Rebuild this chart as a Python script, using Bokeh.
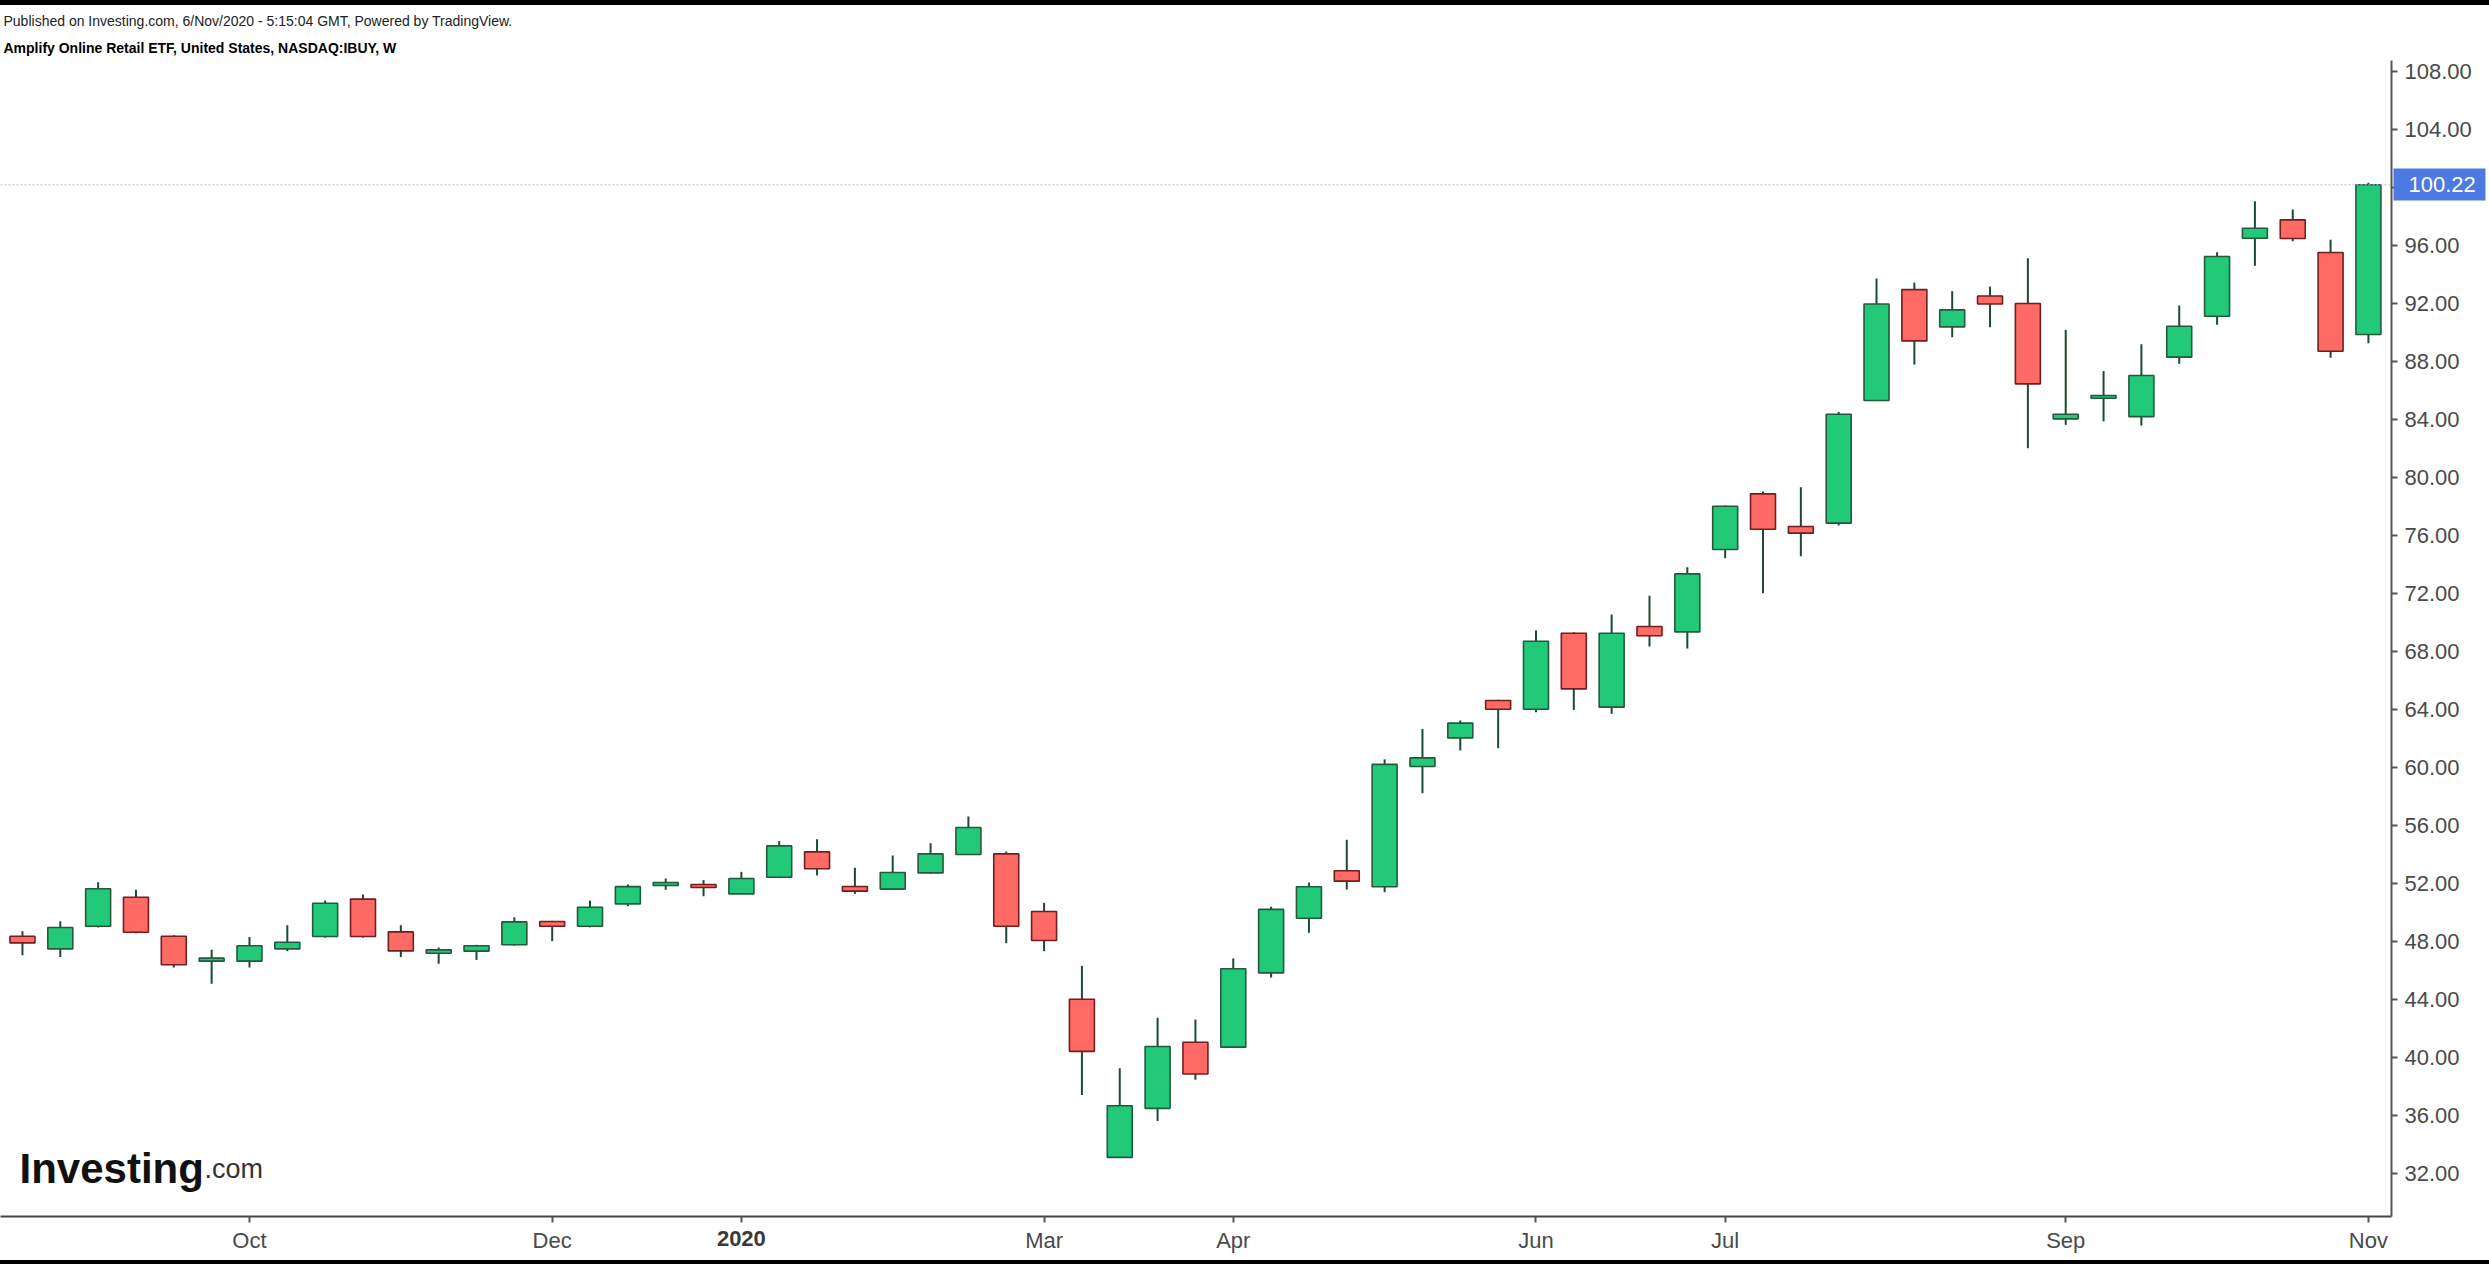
from bokeh.plotting import figure
from bokeh.layouts import column
from bokeh.models import (ColumnDataSource, FixedTicker, PrintfTickFormatter, Label, Span,
                          Range1d, Title, LinearAxis, Div)
from bokeh.embed import file_html
from bokeh.resources import INLINE

# ---------------- data (weekly candles, NASDAQ:IBUY) ----------------
weeks = [
    "2019-08-26", "2019-09-02", "2019-09-09", "2019-09-16", "2019-09-23", "2019-09-30",
    "2019-10-07", "2019-10-14", "2019-10-21", "2019-10-28", "2019-11-04", "2019-11-11",
    "2019-11-18", "2019-11-25", "2019-12-02", "2019-12-09", "2019-12-16", "2019-12-23",
    "2019-12-30", "2020-01-06", "2020-01-13", "2020-01-20", "2020-01-27", "2020-02-03",
    "2020-02-10", "2020-02-17", "2020-02-24", "2020-03-02", "2020-03-09", "2020-03-16",
    "2020-03-23", "2020-03-30", "2020-04-06", "2020-04-13", "2020-04-20", "2020-04-27",
    "2020-05-04", "2020-05-11", "2020-05-18", "2020-05-25", "2020-06-01", "2020-06-08",
    "2020-06-15", "2020-06-22", "2020-06-29", "2020-07-06", "2020-07-13", "2020-07-20",
    "2020-07-27", "2020-08-03", "2020-08-10", "2020-08-17", "2020-08-24", "2020-08-31",
    "2020-09-07", "2020-09-14", "2020-09-21", "2020-09-28", "2020-10-05", "2020-10-12",
    "2020-10-19", "2020-10-26", "2020-11-02",
]
opens = [48.39, 47.52, 49.08, 51.08, 48.39, 46.67, 46.67, 47.52, 48.37, 50.95, 48.69, 47.22,
         47.36, 47.80, 49.41, 49.08, 50.62, 51.89, 51.96, 51.31, 52.46, 54.21, 51.82, 51.64,
         52.76, 54.03, 54.07, 50.10, 44.04, 33.14, 36.52, 41.08, 40.74, 45.86, 49.63, 52.91,
         51.80, 60.10, 62.07, 64.65, 64.05, 69.29, 64.19, 69.75, 69.38, 75.06, 78.90, 76.65,
         76.88, 85.34, 92.99, 90.42, 92.55, 92.03, 84.07, 85.50, 84.23, 88.33, 91.15, 96.53,
         97.80, 95.55, 89.89]
highs = [48.74, 49.43, 52.12, 51.59, 48.45, 47.45, 48.33, 49.15, 50.85, 51.27, 49.15, 47.61,
         47.80, 49.70, 49.45, 50.85, 51.96, 52.37, 52.26, 52.83, 54.95, 55.08, 53.11, 53.96,
         54.81, 56.65, 54.23, 50.69, 46.34, 39.29, 42.77, 42.64, 46.86, 50.43, 52.09, 55.04,
         60.59, 62.69, 63.27, 64.70, 69.48, 69.35, 70.58, 71.87, 73.84, 78.10, 79.06, 79.36,
         84.55, 93.75, 93.47, 92.88, 93.20, 95.15, 90.21, 87.37, 89.22, 91.89, 95.57, 99.09,
         98.51, 96.42, 100.35]
lows = [47.08, 46.95, 49.00, 48.60, 46.23, 45.11, 46.23, 47.36, 48.30, 48.30, 46.95, 46.49,
        46.76, 47.75, 48.05, 49.00, 50.46, 51.59, 51.15, 51.30, 52.40, 52.58, 51.31, 51.60,
        52.70, 54.00, 47.91, 47.36, 37.44, 33.10, 35.65, 38.50, 40.70, 45.54, 48.63, 51.61,
        51.43, 58.26, 61.20, 61.36, 63.84, 64.00, 63.73, 68.37, 68.23, 74.46, 72.05, 74.60,
        76.72, 85.30, 87.82, 89.70, 90.39, 82.05, 83.66, 83.90, 83.61, 87.87, 90.56, 94.63,
        96.33, 88.28, 89.29]
closes = [47.93, 48.99, 51.66, 48.67, 46.42, 46.88, 47.73, 47.98, 50.67, 48.37, 47.38, 47.45,
          47.73, 49.38, 49.08, 50.39, 51.81, 52.10, 51.75, 52.37, 54.62, 53.04, 51.50, 52.79,
          54.07, 55.89, 49.08, 48.10, 40.45, 36.70, 40.79, 38.89, 46.15, 50.24, 51.80, 52.19,
          60.24, 60.69, 63.09, 64.05, 68.74, 65.45, 69.29, 69.11, 73.38, 78.05, 76.46, 76.19,
          84.39, 92.00, 89.45, 91.59, 92.00, 86.49, 84.39, 85.68, 87.06, 90.46, 95.27, 97.22,
          96.51, 88.74, 100.22]
last_price = 100.22

tick_dates = ["2019-10-07", "2019-12-02", "2020-01-06", "2020-03-02", "2020-04-06",
              "2020-06-01", "2020-07-06", "2020-09-07", "2020-11-02"]
tick_labels = ["Oct", "Dec", "2020", "Mar", "Apr", "Jun", "Jul", "Sep", "Nov"]
y_ticks = [32, 36, 40, 44, 48, 52, 56, 60, 64, 68, 72, 76, 80, 84, 88, 92, 96, 100, 104, 108]

title_line1 = "Published on Investing.com, 6/Nov/2020 - 5:15:04 GMT, Powered by TradingView."
title_line2 = "Amplify Online Retail ETF, United States, NASDAQ:IBUY, W"

# ---------------- styling ----------------
UP_FILL, DOWN_FILL = "#22c978", "#ff6a65"
UP_LINE, DOWN_LINE = "#235a3c", "#6e1f1f"
WICK = "#1d4a30"
AXIS_C = "#555555"
TEXT_C = "#4a4a4a"
TAG_C = "#4d7ae2"
FONT = "Liberation Sans"

idx = list(range(len(weeks)))
up = [c >= o for o, c in zip(opens, closes)]
src = ColumnDataSource(dict(
    x=idx, o=opens, h=highs, l=lows, c=closes,
    top=[max(o, c) for o, c in zip(opens, closes)],
    bot=[min(o, c) for o, c in zip(opens, closes)],
    fill=[UP_FILL if u else DOWN_FILL for u in up],
    line=[UP_LINE if u else DOWN_LINE for u in up],
))

W = 2489
BAND_TOP, BAND_BOT = 5, 4
H = 1264 - BAND_TOP - BAND_BOT
BT, BB, BR = 55, 44, 98

p = figure(width=W, height=H, output_backend="svg", toolbar_location=None,
           y_axis_location="right", x_axis_location="below",
           x_range=Range1d(-0.58, 62.61), y_range=Range1d(29.06, 108.79),
           min_border_left=0, min_border_right=BR, min_border_top=BT, min_border_bottom=BB)
p.background_fill_color = "white"
p.border_fill_color = "white"
p.outline_line_color = None
p.grid.visible = False

# header lines (line2 is nearest the plot)
p.add_layout(Title(text=title_line2, align="left", offset=3, standoff=10,
                   text_font=FONT, text_font_size="14px", text_font_style="bold",
                   text_color="#000000"), "above")
p.add_layout(Title(text=title_line1, align="left", offset=3, standoff=7,
                   text_font=FONT, text_font_size="14px", text_font_style="normal",
                   text_color="#222222"), "above")

# candles
p.segment(x0="x", y0="l", x1="x", y1="h", source=src, line_color=WICK, line_width=2)
p.vbar(x="x", width=0.66, top="top", bottom="bot", source=src,
       fill_color="fill", line_color="line", line_width=1.6)

# last price line
p.add_layout(Span(location=last_price, dimension="width", line_color="#a3bcf0",
                  line_width=1, line_dash="2 2"))

# y axis (right)
ya = p.yaxis[0]
ya.ticker = FixedTicker(ticks=y_ticks)
ya.formatter = PrintfTickFormatter(format="%.2f")
ya.major_label_overrides = {100: ""}
ya.axis_line_color = AXIS_C
ya.axis_line_width = 2
ya.major_tick_line_color = AXIS_C
ya.major_tick_line_width = 2
ya.major_tick_out = 6
ya.major_tick_in = 0
ya.minor_tick_line_color = None
ya.major_label_text_font = FONT
ya.major_label_text_font_size = "22px"
ya.major_label_text_color = TEXT_C
ya.major_label_standoff = 7

# last-price tag: an outer right axis whose single thick tick forms the blue box
tag_axis = LinearAxis(ticker=FixedTicker(ticks=[last_price]),
                      formatter=PrintfTickFormatter(format="%.2f"))
tag_axis.axis_line_color = None
tag_axis.minor_tick_line_color = None
tag_axis.major_tick_line_color = TAG_C
tag_axis.major_tick_line_width = 32
tag_axis.major_tick_in = 81
tag_axis.major_tick_out = 11
tag_axis.major_label_text_font = FONT
tag_axis.major_label_text_font_size = "22px"
tag_axis.major_label_text_color = "white"
tag_axis.major_label_standoff = -77
p.add_layout(tag_axis, "right")

# x axis (bottom)
tick_idx = [weeks.index(d) for d in tick_dates]
year_idx = [i for i, lab in zip(tick_idx, tick_labels) if lab.isdigit()]
xa = p.xaxis[0]
xa.ticker = FixedTicker(ticks=tick_idx)
xa.major_label_overrides = {i: ("" if lab.isdigit() else lab) for i, lab in zip(tick_idx, tick_labels)}
xa.axis_line_color = "#444444"
xa.axis_line_width = 2
xa.major_tick_line_color = AXIS_C
xa.major_tick_line_width = 2
xa.major_tick_out = 6
xa.major_tick_in = 0
xa.minor_tick_line_color = None
xa.major_label_text_font = FONT
xa.major_label_text_font_size = "22px"
xa.major_label_text_color = TEXT_C
xa.major_label_standoff = 5

# bold year label: a second (outer) bottom axis pulled up onto the month row
year_axis = LinearAxis(ticker=FixedTicker(ticks=year_idx),
                       major_label_overrides={i: lab for i, lab in zip(tick_idx, tick_labels) if lab.isdigit()})
year_axis.axis_line_color = None
year_axis.major_tick_line_color = None
year_axis.minor_tick_line_color = None
year_axis.major_tick_out = 0
year_axis.major_tick_in = 0
year_axis.major_label_text_font = FONT
year_axis.major_label_text_font_size = "22px"
year_axis.major_label_text_font_style = "bold"
year_axis.major_label_text_color = "#3a3a3a"
year_axis.major_label_standoff = -25
p.add_layout(year_axis, "below")

# logo
p.add_layout(Label(x=19, y=48, x_units="screen", y_units="screen", text="Investing",
                   text_font=FONT, text_font_size="42px", text_font_style="bold",
                   text_color="#111111", text_baseline="alphabetic"))
p.add_layout(Label(x=204, y=48, x_units="screen", y_units="screen", text=".com",
                   text_font=FONT, text_font_size="27px", text_color="#333333",
                   text_baseline="alphabetic"))

top_band = Div(width=W, height=BAND_TOP, margin=0, styles={"background-color": "#000000"})
bottom_band = Div(width=W, height=BAND_BOT, margin=0, styles={"background-color": "#000000"})
page = column(top_band, p, bottom_band, spacing=0)

open("out.html", "w").write(file_html(page, INLINE))
